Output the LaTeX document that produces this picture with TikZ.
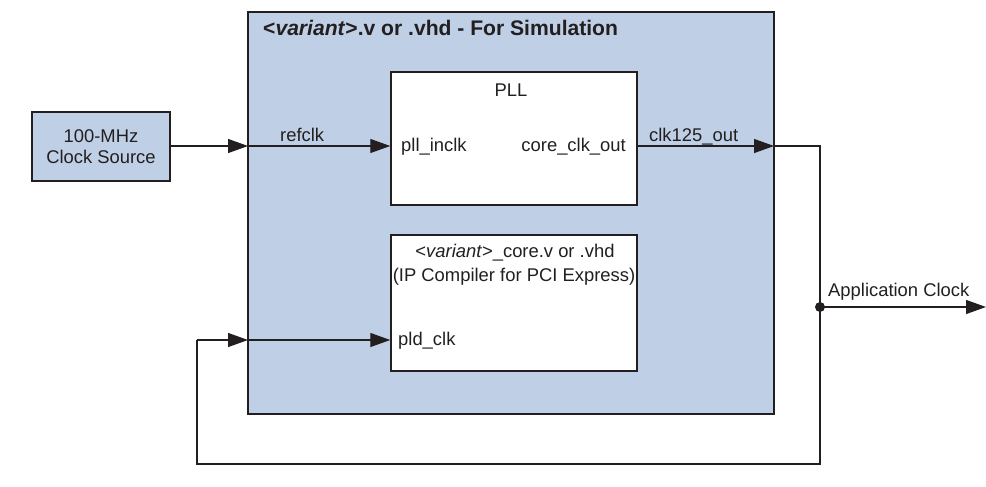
\documentclass[tikz,border=0pt]{standalone}
\usepackage{fontspec}
\setmainfont{Liberation Sans}
\usetikzlibrary{arrows.meta}
\definecolor{boxblue}{RGB}{191,208,230}
\definecolor{ink}{RGB}{35,31,32}
\begin{document}
\begin{tikzpicture}[x=1pt,y=-1pt,
  box/.style={draw=ink,line width=1.5pt,rectangle,inner sep=0pt},
  bluebox/.style={box,fill=boxblue},
  whitebox/.style={box,fill=white},
  lbl/.style={inner sep=0pt,text=ink,font=\fontsize{18.4}{23.3}\selectfont},
  wire/.style={draw=ink,line width=1.3pt},
  arr/.style={wire,-{Triangle[length=20pt,width=14pt]}}]
\useasboundingbox (0,0) rectangle (986,487);
% boxes
\node[bluebox,minimum width=526pt,minimum height=402pt] (outer) at (511,213) {};
\node[bluebox,minimum width=138pt,minimum height=69pt] (src) at (101,146.5) {};
\node[whitebox,minimum width=246pt,minimum height=133pt] (pll) at (514,138.5) {};
\node[whitebox,minimum width=246pt,minimum height=136pt] (core) at (514,303) {};
% texts
\node[inner sep=0pt,text=ink,anchor=base west,font=\fontsize{21.1}{25}\selectfont\bfseries] (title) at (263,36) {<\textit{variant}>.v or .vhd - For Simulation};
\node[lbl,anchor=base] (src1) at (101,142.3) {100-MHz};
\node[lbl,anchor=base] (src2) at (101,163.5) {Clock Source};
\node[lbl,anchor=base] (plltxt) at (511,96.7) {PLL};
\node[lbl,anchor=base west] (pllin) at (401,151) {pll\_inclk};
\node[lbl,anchor=base east] (pllout) at (626,151) {core\_clk\_out};
\node[lbl,anchor=base] (core1) at (515,257.7) {<\textit{variant}>\_core.v or .vhd};
\node[lbl,anchor=base] (core2) at (514,281) {(IP Compiler for PCI Express)};
\node[lbl,anchor=base west] (pldclk) at (398,345.5) {pld\_clk};
\node[lbl,anchor=base west] (refclk) at (280,141.5) {refclk};
\node[lbl,anchor=base west] (clkout) at (649,141.5) {clk125\_out};
\node[lbl,anchor=base west] (appclk) at (828,296.7) {Application Clock};
% coordinates
\coordinate (inL) at (248,146);
\coordinate (outR) at (774,146);
\coordinate (turn1) at (820,146);
\coordinate (dot) at (820,307);
\coordinate (turn2) at (820,464);
\coordinate (turn3) at (197,464);
\coordinate (turn4) at (197,340);
\coordinate (fbL) at (248,340);
\coordinate (appEnd) at (986,307);
% connectors
\draw[arr] (src.east |- inL) -- (inL);
\draw[arr] (inL) -- (inL -| pll.west);
\draw[arr] (outR -| pll.east) -- (outR);
\draw[wire] (outR) -- (turn1) -- (turn2) -- (turn3) -- (turn4);
\draw[arr] (turn4) -- (fbL);
\draw[arr] (fbL) -- (fbL -| core.west);
\draw[arr] (dot) -- (appEnd);
\fill[ink] (dot) circle (5pt);
\end{tikzpicture}
\end{document}
